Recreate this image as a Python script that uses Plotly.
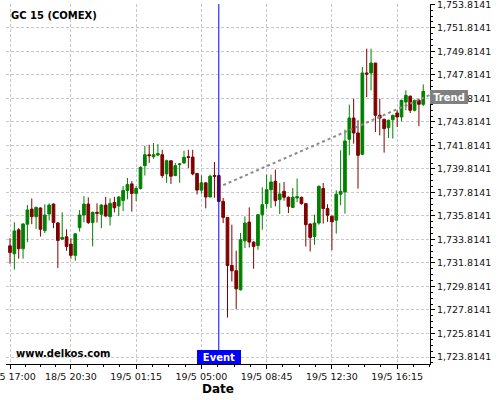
import pandas as pd
import plotly.graph_objects as go

# 15 minute GC bars, the 23:00 session break has no bars
times = pd.date_range("2021-05-18 17:00", "2021-05-19 17:45", freq="15min")
times = times[times.hour != 23]

opens = [
    1733.27, 1732.60, 1734.63, 1733.02, 1735.11, 1736.40, 1735.75, 1736.49,
    1734.57, 1735.98, 1736.82, 1735.22, 1733.84, 1734.04, 1733.42, 1732.46,
    1734.82, 1735.89, 1736.82, 1735.25, 1736.12, 1735.95, 1736.74, 1735.75,
    1736.96, 1736.66, 1737.13, 1737.98, 1738.54, 1737.73, 1738.15, 1740.09,
    1741.02, 1740.85, 1740.99, 1741.02, 1739.39, 1740.51, 1739.25, 1740.18,
    1740.32, 1740.85, 1740.82, 1739.42, 1738.01, 1738.63, 1737.42, 1739.25,
    1739.24, 1737.05, 1735.69, 1731.60, 1731.15, 1729.53, 1733.70, 1735.29,
    1733.59, 1733.30, 1735.92, 1736.86, 1738.05, 1738.76, 1737.20, 1737.91,
    1737.40, 1736.54, 1737.34, 1737.40, 1736.86, 1735.12, 1734.07, 1735.21,
    1738.14, 1736.44, 1735.79, 1735.45, 1737.66, 1737.86, 1742.33, 1744.14,
    1742.87, 1741.06, 1747.97, 1747.97, 1748.82, 1744.37, 1744.03, 1743.32,
    1744.00, 1744.57, 1744.23, 1745.50, 1745.99, 1744.80, 1745.65, 1745.31,
]
highs = [
    1733.92, 1735.28, 1734.77, 1735.19, 1736.74, 1737.30, 1736.60, 1736.54,
    1736.80, 1736.88, 1736.88, 1735.28, 1736.12, 1734.68, 1733.92, 1734.35,
    1736.32, 1737.50, 1737.39, 1736.18, 1736.88, 1736.80, 1737.44, 1737.30,
    1737.44, 1737.50, 1738.35, 1739.05, 1738.77, 1738.35, 1740.04, 1741.78,
    1741.87, 1742.01, 1741.92, 1741.44, 1740.60, 1740.51, 1740.32, 1740.32,
    1741.36, 1741.44, 1741.44, 1739.47, 1739.27, 1738.63, 1739.33, 1740.40,
    1739.33, 1737.34, 1735.69, 1735.07, 1732.85, 1734.36, 1735.78, 1736.54,
    1733.65, 1735.97, 1738.25, 1739.33, 1739.33, 1739.75, 1738.62, 1738.70,
    1737.48, 1738.19, 1738.99, 1737.45, 1736.91, 1735.21, 1735.92, 1738.42,
    1738.62, 1736.81, 1735.84, 1738.00, 1741.40, 1743.15, 1745.28, 1745.79,
    1743.95, 1748.48, 1750.04, 1750.04, 1748.82, 1745.79, 1744.09, 1744.00,
    1744.43, 1744.80, 1745.70, 1746.50, 1746.07, 1745.70, 1745.79, 1747.00,
]
lows = [
    1731.75, 1731.25, 1732.18, 1732.18, 1733.58, 1735.11, 1734.71, 1734.06,
    1734.35, 1735.42, 1734.77, 1731.39, 1733.78, 1732.85, 1732.18, 1732.01,
    1734.49, 1735.28, 1735.13, 1733.22, 1735.25, 1734.77, 1735.70, 1735.00,
    1736.12, 1735.81, 1736.23, 1737.22, 1736.18, 1737.08, 1738.06, 1739.25,
    1740.32, 1740.68, 1740.88, 1739.05, 1738.63, 1738.54, 1739.19, 1738.63,
    1740.26, 1739.89, 1739.27, 1737.64, 1737.70, 1736.46, 1737.42, 1737.36,
    1737.00, 1735.21, 1727.17, 1730.24, 1727.91, 1729.47, 1733.08, 1733.13,
    1731.32, 1732.93, 1734.64, 1736.43, 1736.49, 1736.63, 1735.97, 1737.11,
    1736.06, 1736.49, 1736.99, 1736.77, 1733.22, 1732.79, 1733.36, 1735.07,
    1735.16, 1735.31, 1732.90, 1734.31, 1736.72, 1736.01, 1740.97, 1741.96,
    1738.14, 1740.97, 1745.93, 1746.50, 1742.95, 1742.67, 1741.20, 1742.44,
    1742.39, 1743.38, 1743.86, 1744.80, 1744.57, 1744.71, 1743.46, 1745.16,
]
closes = [
    1732.71, 1734.54, 1733.02, 1735.13, 1736.32, 1735.75, 1736.54, 1734.68,
    1735.89, 1736.74, 1735.25, 1733.73, 1733.98, 1733.22, 1732.46, 1734.29,
    1735.89, 1736.82, 1735.25, 1736.12, 1736.04, 1736.74, 1735.81, 1736.88,
    1736.51, 1737.42, 1737.98, 1738.49, 1737.73, 1738.15, 1739.95, 1741.02,
    1740.94, 1741.02, 1741.11, 1739.25, 1740.51, 1739.19, 1740.09, 1740.23,
    1740.80, 1740.80, 1739.39, 1738.01, 1738.63, 1737.42, 1739.19, 1739.19,
    1737.05, 1735.69, 1731.60, 1731.15, 1729.61, 1733.79, 1735.21, 1733.59,
    1733.22, 1735.92, 1736.77, 1738.05, 1738.70, 1737.11, 1737.68, 1737.40,
    1736.63, 1737.40, 1737.45, 1736.86, 1735.07, 1733.99, 1735.21, 1738.33,
    1736.44, 1735.87, 1735.31, 1737.66, 1737.91, 1742.19, 1744.14, 1742.87,
    1740.97, 1747.97, 1747.88, 1748.82, 1744.37, 1744.14, 1743.24, 1743.95,
    1744.37, 1744.23, 1745.65, 1746.07, 1744.80, 1745.65, 1745.31, 1746.41,
]

tick_labels = ["18/5 17:00", "18/5 20:30", "19/5 01:15", "19/5 05:00",
               "19/5 08:45", "19/5 12:30", "19/5 16:15"]
event_label = "19/5 06:00"

# price grid levels shown on the right axis
y_ticks = [1723.8141 + 2 * k for k in range(16)]

# trend line, in bar numbers
trend_x = [49, 96.5]
trend_y = [1738.43, 1746.10]
trend_level = 1745.9

y_range = [1723.22, 1753.84]

labels = [f"{t.day}/{t.month} {t:%H:%M}" for t in times]
bars = list(range(len(labels)))
tick_pos = [labels.index(s) for s in tick_labels]
event_pos = labels.index(event_label)

# four minor ticks per major step
minor_pos = []
for a, b in zip(tick_pos[:-1], tick_pos[1:]):
    minor_pos += [a + (b - a) * k / 4 for k in (1, 2, 3)]
step = (tick_pos[-1] - tick_pos[-2]) / 4
minor_pos += [tick_pos[-1] + step * k for k in (1, 2)]

font = "DejaVu Sans"
grid = dict(gridcolor="#c8c8c8", gridwidth=1, griddash="3px,2px")

fig = go.Figure()
fig.add_trace(go.Candlestick(
    x=bars, open=opens, high=highs, low=lows, close=closes,
    increasing=dict(line=dict(color="#008000", width=1), fillcolor="#008000"),
    decreasing=dict(line=dict(color="#800000", width=1), fillcolor="#800000"),
    showlegend=False, hoverinfo="skip",
))
fig.add_trace(go.Scatter(
    x=trend_x, y=trend_y, mode="lines",
    line=dict(color="#8c8c8c", width=2, dash="dot"),
    showlegend=False, hoverinfo="skip",
))

fig.add_shape(type="line", x0=event_pos, x1=event_pos, yref="paper", y0=0, y1=1,
              line=dict(color="#0000ff", width=1))

fig.add_annotation(text="Event", x=event_pos, xanchor="center", yref="paper", y=0,
                   yanchor="bottom", showarrow=False, bgcolor="#0000ff",
                   width=44, height=14, borderpad=0, borderwidth=0,
                   font=dict(family=font, size=10, color="white", weight="bold"))
fig.add_annotation(text="Trend", xref="paper", x=1, xanchor="left", y=trend_level,
                   yanchor="middle", showarrow=False, bgcolor="#808080",
                   width=38, height=14, borderpad=0, borderwidth=0,
                   font=dict(family=font, size=10, color="white", weight="bold"))
fig.add_annotation(text="GC 15 (COMEX)", xref="paper", x=0, xanchor="left", xshift=3,
                   yref="paper", y=1, yanchor="top", yshift=-4, showarrow=False,
                   font=dict(family=font, size=10, color="black", weight="bold"))
fig.add_annotation(text="www.delkos.com", xref="paper", x=0, xanchor="left", xshift=8,
                   yref="paper", y=0, yanchor="bottom", yshift=3, showarrow=False,
                   font=dict(family=font, size=10, color="black", weight="bold"))

fig.update_layout(
    width=500, height=400,
    margin=dict(l=6, r=70, t=4, b=36, autoexpand=False),
    paper_bgcolor="white", plot_bgcolor="white",
    font=dict(family=font, size=9.5, color="#111"),
    boxgap=0.12,
    xaxis=dict(
        range=[-0.92, len(bars) + 0.55], rangeslider=dict(visible=False),
        tickmode="array", tickvals=tick_pos, ticktext=tick_labels,
        ticks="outside", ticklen=4, tickcolor="black", automargin=False,
        ticklabeloverflow="allow",
        showline=True, linecolor="black", linewidth=1, zeroline=False,
        showgrid=True, **grid,
        minor=dict(tickmode="array", tickvals=minor_pos, ticks="outside",
                   ticklen=2, tickcolor="black", showgrid=False),
        title=dict(text="Date", standoff=2,
                   font=dict(family=font, size=12, color="black", weight="bold")),
    ),
    yaxis=dict(
        side="right", range=y_range, automargin=False,
        tickmode="array", tickvals=y_ticks,
        ticktext=[f"{v:,.4f}" for v in y_ticks],
        ticks="outside", ticklen=4, tickcolor="black",
        ticklabeloverflow="allow",
        showline=True, linecolor="black", linewidth=1, zeroline=False,
        showgrid=True, **grid,
        minor=dict(tick0=y_ticks[0], dtick=0.5, ticks="outside",
                   ticklen=2, tickcolor="black", showgrid=False),
    ),
)

# the page body has an 8px default margin; drop it so the figure fills the window
fig.write_html("out.html", config={"displayModeBar": False},
               post_script="document.body.style.margin = '0';")
